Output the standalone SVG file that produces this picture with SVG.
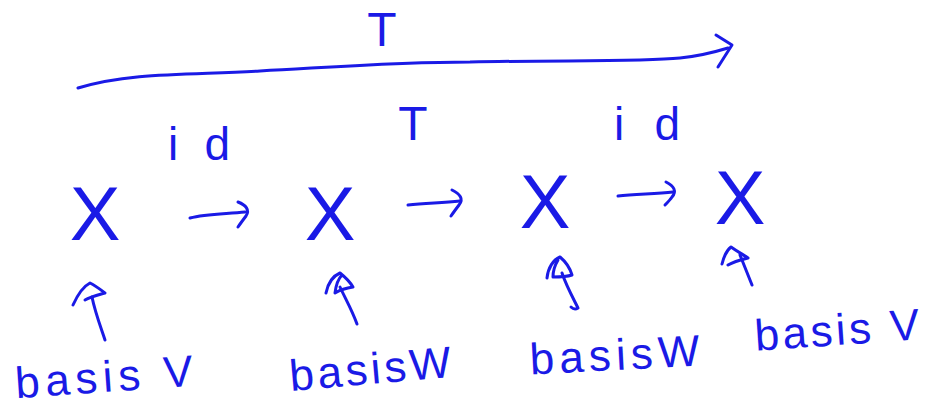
<svg xmlns="http://www.w3.org/2000/svg" width="925" height="411" viewBox="0 0 925 411">
<style>
text{font-family:"Liberation Sans","DejaVu Sans",sans-serif;fill:#1a1ae6}
.x{font-size:76px}
.t{font-size:48px}
.id{font-size:46px}
.b{font-size:44px}
.ln{fill:none;stroke:#1a1ae6;stroke-width:3;stroke-linecap:round;stroke-linejoin:round}
</style>
<rect width="925" height="411" fill="#fff"/>
<g id="connectors">
  <path class="ln" d="M78,88 C130,72 190,75 260,71 C350,66 400,62 470,62 C560,60 640,62 680,58 C700,56 715,52 728,48"/>
  <path class="ln" d="M716,35 L732,45 L718,67"/>
  <path class="ln" d="M190,218 C205,214 225,214 245,212"/>
  <path class="ln" d="M238,202 C246,205 250,210 246,216 C243,220 240,224 238,227"/>
  <path class="ln" d="M408,205 C425,203 440,203 460,201"/>
  <path class="ln" d="M452,190 C460,194 464,199 459,205 C456,209 453,213 451,216"/>
  <path class="ln" d="M618,196 C635,194 655,194 673,192"/>
  <path class="ln" d="M666,182 C674,186 677,191 672,197 C670,200 667,203 665,205"/>
  <path class="ln" d="M105,340 C100,325 95,312 92,297"/>
  <path class="ln" d="M73,305 C78,294 84,286 90,283 C96,286 101,290 105,293 C98,295 90,297 85,300"/>
  <path class="ln" d="M357,324 C352,310 345,298 340,287"/>
  <path class="ln" d="M326,293 C328,283 333,276 340,273 C345,277 350,282 353,287 C346,288 340,290 335,293 C336,285 338,279 342,275"/>
  <path class="ln" d="M578,308 C575,310 573,309 571,307 M578,308 C572,296 566,285 562,273"/>
  <path class="ln" d="M547,278 C548,268 553,260 560,257 C566,262 570,268 572,275 C566,277 559,277 553,277 C553,270 555,265 558,260"/>
  <path class="ln" d="M752,285 C748,275 744,265 740,255"/>
  <path class="ln" d="M722,264 C724,256 727,250 731,247 C738,252 744,255 748,258 C740,260 733,262 728,265"/>
</g>
<g id="label-T-top"><text class="t" x="382" y="46" text-anchor="middle">T</text></g>
<g id="label-id-1"><text class="id" x="168" y="160" textLength="62">id</text></g>
<g id="label-T-mid"><text class="t" x="413" y="140" text-anchor="middle">T</text></g>
<g id="label-id-2"><text class="id" x="614" y="140" textLength="66">id</text></g>
<g id="node-X1"><text class="x" x="95" y="240" text-anchor="middle">X</text></g>
<g id="node-X2"><text class="x" x="330" y="240" text-anchor="middle">X</text></g>
<g id="node-X3"><text class="x" x="545" y="228" text-anchor="middle">X</text></g>
<g id="node-X4"><text class="x" x="740" y="224" text-anchor="middle">X</text></g>
<g id="label-basisV-1"><text class="b" x="16" y="392" textLength="178" transform="rotate(-4 105 392)">basis V</text></g>
<g id="label-basisW-1"><text class="b" x="290" y="384" textLength="162" transform="rotate(-5 370 378)">basisW</text></g>
<g id="label-basisW-2"><text class="b" x="530" y="370" textLength="170" transform="rotate(-3 615 364)">basisW</text></g>
<g id="label-basisV-2"><text class="b" x="755" y="345" textLength="165" transform="rotate(-4 838 338)">basis V</text></g>
</svg>
